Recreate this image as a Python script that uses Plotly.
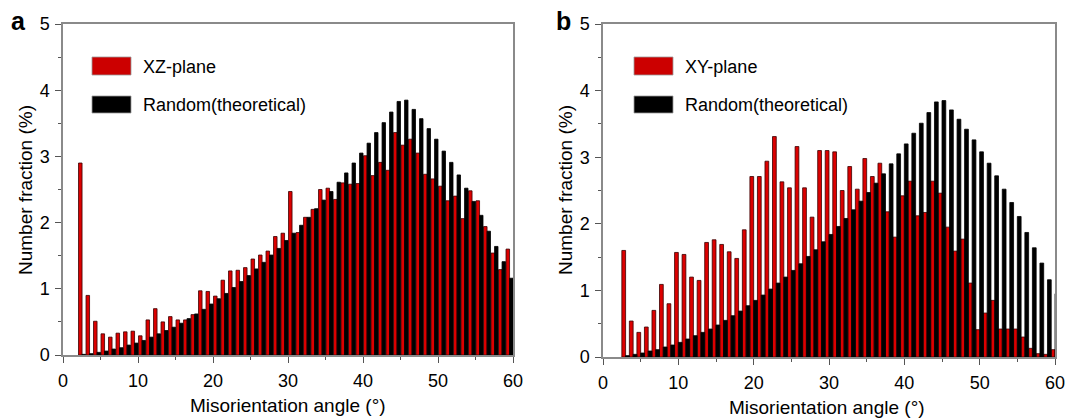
import plotly.graph_objects as go

# Angle bins (degrees)
angles = list(range(2, 60))          # 2..59
angles_b = list(range(3, 61))        # 3..60 (panel b positions)

# Random (theoretical) distribution, % per bin
random_theoretical = [0.01, 0.02, 0.04, 0.06, 0.09, 0.11, 0.15, 0.18, 0.22, 0.27,
                      0.32, 0.37, 0.42, 0.48, 0.55, 0.62, 0.69, 0.77, 0.85, 0.93,
                      1.02, 1.11, 1.20, 1.30, 1.40, 1.51, 1.61, 1.73, 1.84, 1.96,
                      2.08, 2.21, 2.34, 2.47, 2.61, 2.75, 2.90, 3.05, 3.20, 3.36,
                      3.51, 3.67, 3.83, 3.85, 3.71, 3.57, 3.42, 3.26, 3.08, 2.91,
                      2.72, 2.52, 2.32, 2.11, 1.87, 1.64, 1.41, 1.16]
random_theoretical_b = random_theoretical[1:] + [0.95]

# XZ-plane measured, bins 2..59
xz_plane = [2.90, 0.90, 0.51, 0.32, 0.27, 0.33, 0.35, 0.36, 0.29, 0.53,
            0.70, 0.50, 0.58, 0.53, 0.53, 0.61, 0.97, 0.96, 0.89, 1.13,
            1.27, 1.28, 1.32, 1.45, 1.51, 1.57, 1.79, 1.84, 2.47, 1.85,
            2.08, 2.20, 2.50, 2.52, 2.35, 2.60, 2.58, 2.59, 3.01, 2.71,
            2.91, 2.79, 3.36, 3.17, 3.26, 3.05, 2.73, 2.66, 2.55, 2.33,
            2.40, 2.06, 2.48, 2.33, 1.94, 1.54, 1.29, 1.60]

# XY-plane measured, bins 3..60
xy_plane = [1.60, 0.54, 0.37, 0.45, 0.70, 1.09, 0.80, 1.57, 1.54, 1.20,
            1.15, 1.72, 1.76, 1.69, 1.58, 1.48, 1.91, 2.71, 2.71, 2.94,
            3.31, 2.63, 2.54, 3.16, 2.54, 2.10, 3.10, 3.10, 3.08, 2.50,
            2.86, 2.52, 2.98, 2.71, 2.91, 2.18, 1.80, 2.42, 2.64, 2.12,
            2.17, 2.64, 2.46, 1.95, 1.59, 1.77, 1.11, 0.41, 0.66, 0.85,
            0.42, 0.42, 0.42, 0.30, 0.13, 0.05, 0.04, 0.11]

x_ticks = [0, 10, 20, 30, 40, 50, 60]
y_ticks = [0, 1, 2, 3, 4, 5]

RED = "#dc0000"
EDGE = "#3a0000"
FONT = "Liberation Sans, Arial, sans-serif"

fig = go.Figure()

fig.add_trace(go.Bar(x=angles, y=xz_plane, offset=0.07, width=0.47,
                     marker=dict(color=RED, line=dict(color=EDGE, width=0.8)),
                     xaxis="x", yaxis="y", showlegend=False))
fig.add_trace(go.Bar(x=angles, y=random_theoretical, offset=0.54, width=0.46,
                     marker=dict(color="#000000", line=dict(color="#000000", width=0.8)),
                     xaxis="x", yaxis="y", showlegend=False))
fig.add_trace(go.Bar(x=angles_b, y=xy_plane, offset=-0.5, width=0.5,
                     marker=dict(color=RED, line=dict(color=EDGE, width=0.8)),
                     xaxis="x2", yaxis="y2", showlegend=False))
fig.add_trace(go.Bar(x=angles_b, y=random_theoretical_b, offset=0.0, width=0.5,
                     marker=dict(color="#000000", line=dict(color="#000000", width=0.8)),
                     xaxis="x2", yaxis="y2", showlegend=False))

W, H = 1066, 418
def px(x): return x / W
def py(y): return 1 - y / H

axis_common = dict(
    showline=True, linecolor="#8a8a8a", linewidth=1.5, mirror=True,
    ticks="outside", ticklen=6, tickwidth=1.2, tickcolor="#555555",
    showgrid=False, zeroline=False, automargin=False,
    tickfont=dict(family=FONT, size=18, color="#000000"),
)
xminor = dict(tickvals=[5, 15, 25, 35, 45, 55], ticks="outside", ticklen=3, tickcolor="#555555")
yminor = dict(tickvals=[0.5, 1.5, 2.5, 3.5, 4.5], ticks="outside", ticklen=3, tickcolor="#555555")

fig.update_layout(
    width=W, height=H,
    margin=dict(l=0, r=0, t=0, b=0, autoexpand=False),
    paper_bgcolor="white", plot_bgcolor="white",
    barmode="overlay",
    font=dict(family=FONT, color="#000000"),
    xaxis=dict(domain=[px(63), px(513)], range=[0, 60], tickvals=x_ticks, minor=xminor,
               anchor="y", ticklabelstandoff=3, **axis_common),
    yaxis=dict(domain=[py(355), py(24)], range=[0, 5], tickvals=y_ticks, minor=yminor,
               anchor="x", ticklabelstandoff=2, **axis_common),
    xaxis2=dict(domain=[px(603), px(1055)], range=[0, 60], tickvals=x_ticks, minor=xminor,
                anchor="y2", ticklabelstandoff=3, **axis_common),
    yaxis2=dict(domain=[py(357), py(24)], range=[0, 5], tickvals=y_ticks, minor=yminor,
                anchor="x2", ticklabelstandoff=2, **axis_common),
)

shapes = []
annotations = []

def legend(x0, label_top):
    shapes.append(dict(type="rect", xref="paper", yref="paper",
                       x0=px(x0), x1=px(x0 + 39), y0=py(75), y1=py(57),
                       fillcolor="#cc0000", line=dict(color="#999999", width=0.8)))
    shapes.append(dict(type="rect", xref="paper", yref="paper",
                       x0=px(x0), x1=px(x0 + 39), y0=py(113), y1=py(96),
                       fillcolor="#000000", line=dict(color="#999999", width=0.8)))
    annotations.append(dict(text=label_top, xref="paper", yref="paper",
                            x=px(x0 + 49), y=py(67), xanchor="left", yanchor="middle",
                            showarrow=False, font=dict(family=FONT, size=18, color="#000")))
    annotations.append(dict(text="Random(theoretical)", xref="paper", yref="paper",
                            x=px(x0 + 49), y=py(105), xanchor="left", yanchor="middle",
                            showarrow=False, font=dict(family=FONT, size=18, color="#000")))

legend(92, "XZ-plane")
legend(634, "XY-plane")

for xc, letter in [(18, "a"), (563, "b")]:
    annotations.append(dict(text="<b>%s</b>" % letter, xref="paper", yref="paper",
                            x=px(xc), y=py(21), xanchor="center", yanchor="middle",
                            showarrow=False, font=dict(family=FONT, size=25, color="#000")))

for xc, yc in [(25, 190), (565, 190)]:
    annotations.append(dict(text="Number fraction (%)", xref="paper", yref="paper",
                            x=px(xc), y=py(yc), xanchor="center", yanchor="middle", textangle=-90,
                            showarrow=False, font=dict(family=FONT, size=19, color="#000")))

for xc, yc in [(288, 405), (827, 407)]:
    annotations.append(dict(text="Misorientation angle (°)", xref="paper", yref="paper",
                            x=px(xc), y=py(yc), xanchor="center", yanchor="middle",
                            showarrow=False, font=dict(family=FONT, size=19, color="#000")))

fig.update_layout(shapes=shapes, annotations=annotations)

fig.write_html("out.html", config={"displayModeBar": False},
               post_script="document.body.style.margin='0';document.body.style.overflow='hidden';")
